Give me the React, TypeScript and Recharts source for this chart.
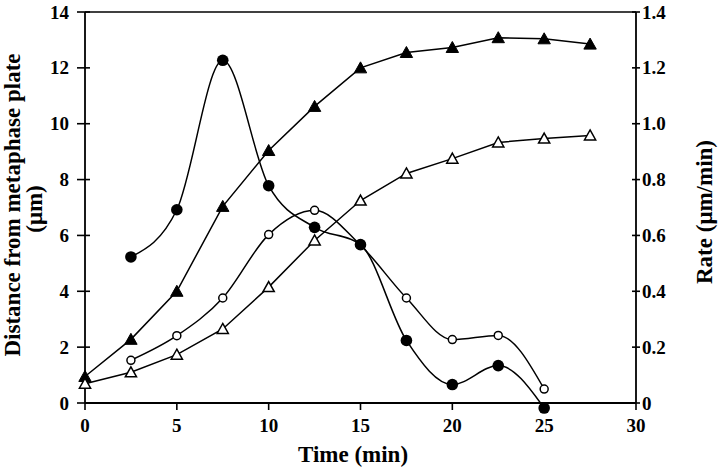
import React from 'react';
import { LineChart, Line, XAxis, YAxis, ReferenceLine } from 'recharts';

const TIMES = [0, 2.5, 5, 7.5, 10, 12.5, 15, 17.5, 20, 22.5, 25, 27.5];
const DIST_FILLED = [0.95, 2.28, 4.0, 7.04, 9.04, 10.62, 12.0, 12.55, 12.73, 13.08, 13.04, 12.85];
const DIST_OPEN = [0.69, 1.1, 1.73, 2.65, 4.15, 5.82, 7.25, 8.22, 8.75, 9.33, 9.47, 9.58];
// rate series start at 2.5 min and stop at 25 min
const RATE_FILLED = [null, 0.523, 0.692, 1.227, 0.778, 0.629, 0.567, 0.224, 0.066, 0.134, -0.018, null];
const RATE_OPEN = [null, 0.153, 0.241, 0.376, 0.603, 0.69, 0.565, 0.376, 0.227, 0.242, 0.05, null];

const X_TICKS = [0, 5, 10, 15, 20, 25, 30];
const LEFT_TICKS = [0, 2, 4, 6, 8, 10, 12, 14];
const RIGHT_TICKS = [0, 0.2, 0.4, 0.6, 0.8, 1.0, 1.2, 1.4];

const data = TIMES.map((t, i) => ({
  t,
  distFilled: DIST_FILLED[i],
  distOpen: DIST_OPEN[i],
  rateFilled: RATE_FILLED[i],
  rateOpen: RATE_OPEN[i],
}));

const FONT = '"Liberation Serif", "Times New Roman", serif';
const tickText = { fontFamily: FONT, fontSize: 19, fontWeight: 700, fill: '#000' };
const titleText = { fontFamily: FONT, fontSize: 23, fontWeight: 700, fill: '#000' };

function LeftTick({ x, y, payload }: any) {
  return (
    <g>
      <line x1={x - 8} x2={x + 5} y1={y} y2={y} stroke="#000" strokeWidth={1.6} />
      <text x={x - 16} y={y + 6.5} textAnchor="end" style={tickText}>{payload.value}</text>
    </g>
  );
}

function RightTick({ x, y, payload }: any) {
  const v = payload.value === 0 ? '0' : Number(payload.value).toFixed(1);
  return (
    <g>
      <line x1={x - 4} x2={x + 4} y1={y} y2={y} stroke="#000" strokeWidth={1.6} />
      <text x={x + 6} y={y + 6.5} textAnchor="start" style={tickText}>{v}</text>
    </g>
  );
}

function BottomTick({ x, y, payload }: any) {
  return (
    <g>
      <line x1={x} x2={x} y1={y} y2={y + 7} stroke="#000" strokeWidth={1.6} />
      <text x={x} y={y + 28.5} textAnchor="middle" style={tickText}>{payload.value}</text>
    </g>
  );
}

const filledTriangle = (props: any) => {
  const { cx, cy, index } = props;
  if (cx == null || cy == null) return <g key={`ft-${index}`} />;
  return (
    <path key={`ft-${index}`} d={`M${cx},${cy - 6} L${cx + 6.2},${cy + 5} L${cx - 6.2},${cy + 5} Z`} fill="#000" stroke="#000" strokeWidth={1} />
  );
};

const openTriangle = (props: any) => {
  const { cx, cy, index } = props;
  if (cx == null || cy == null) return <g key={`ot-${index}`} />;
  return (
    <path key={`ot-${index}`} d={`M${cx},${cy - 5.5} L${cx + 5.6},${cy + 4.5} L${cx - 5.6},${cy + 4.5} Z`} fill="#fff" stroke="#000" strokeWidth={1.5} />
  );
};

export default function App() {
  return (
    <div style={{ position: 'absolute', left: 0, top: 0, width: 720, height: 474, background: '#fff' }}>
      <LineChart width={720} height={474} data={data} margin={{ top: 12, right: 0, bottom: 0, left: 0 }}>
        <XAxis
          dataKey="t"
          type="number"
          domain={[0, 30]}
          ticks={X_TICKS}
          height={71}
          tickSize={0}
          tickMargin={0}
          tickLine={false}
          tick={<BottomTick />}
          axisLine={{ stroke: '#000', strokeWidth: 1.8 }}
          label={{
            content: () => (
              <text x={353} y={462} textAnchor="middle" style={titleText}>Time (min)</text>
            ),
          }}
        />
        <YAxis
          yAxisId="left"
          orientation="left"
          width={85}
          domain={[0, 14]}
          ticks={LEFT_TICKS}
          tickSize={0}
          tickMargin={0}
          tickLine={false}
          tick={<LeftTick />}
          axisLine={{ stroke: '#000', strokeWidth: 1.8 }}
          label={{
            content: () => (
              <g>
                <text x={20} y={205} transform="rotate(-90 20 205)" textAnchor="middle" style={titleText}>Distance from metaphase plate</text>
                <text x={42} y={209} transform="rotate(-90 42 209)" textAnchor="middle" style={titleText}>(μm)</text>
              </g>
            ),
          }}
        />
        <YAxis
          yAxisId="right"
          orientation="right"
          width={84}
          domain={[0, 1.4]}
          allowDataOverflow
          ticks={RIGHT_TICKS}
          tickSize={0}
          tickMargin={0}
          tickLine={false}
          tick={<RightTick />}
          axisLine={{ stroke: '#000', strokeWidth: 1.8 }}
          label={{
            content: () => (
              <text x={712} y={212} transform="rotate(-90 712 212)" textAnchor="middle" style={titleText}>Rate (μm/min)</text>
            ),
          }}
        />
        <ReferenceLine yAxisId="left" y={14} stroke="#000" strokeWidth={1.6} />
        <Line
          yAxisId="left"
          dataKey="distFilled"
          type="linear"
          stroke="#000"
          strokeWidth={1.5}
          dot={filledTriangle}
          activeDot={false}
          isAnimationActive={false}
        />
        <Line
          yAxisId="left"
          dataKey="distOpen"
          type="linear"
          stroke="#000"
          strokeWidth={1.5}
          dot={openTriangle}
          activeDot={false}
          isAnimationActive={false}
        />
        <Line
          yAxisId="right"
          dataKey="rateOpen"
          type="monotone"
          stroke="#000"
          strokeWidth={1.5}
          dot={{ r: 4, fill: '#fff', stroke: '#000', strokeWidth: 1.5, clipDot: false }}
          activeDot={false}
          isAnimationActive={false}
        />
        {/* stroke none but wide strokeWidth so the dot clip box is large enough for the point under the axis */}
        <Line
          yAxisId="right"
          dataKey="rateFilled"
          type="monotone"
          stroke="#000"
          strokeWidth={1.5}
          dot={{ r: 5.8, fill: '#000', stroke: 'none', strokeWidth: 14, clipDot: false }}
          activeDot={false}
          isAnimationActive={false}
        />
      </LineChart>
    </div>
  );
}
